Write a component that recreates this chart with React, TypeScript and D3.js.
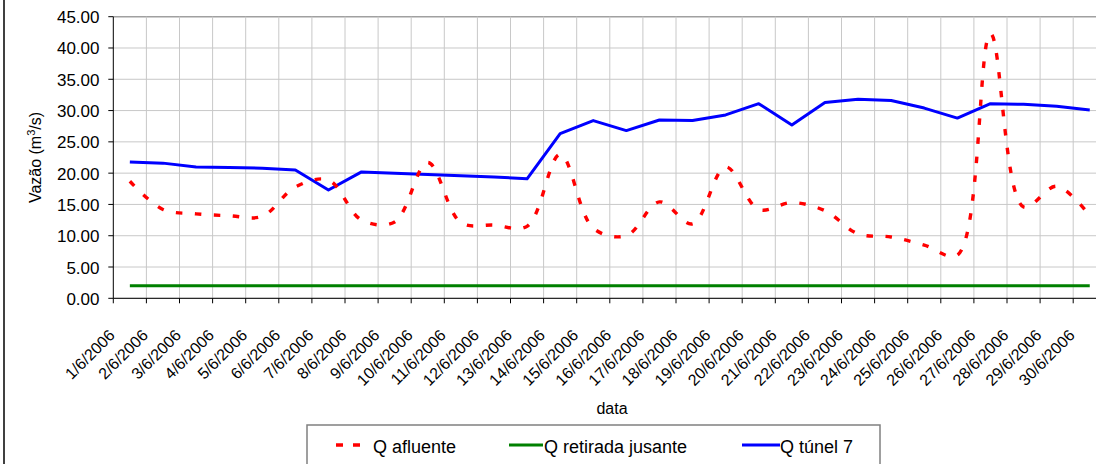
import React from "react";
import * as d3 from "d3";

const categories = [
  "1/6/2006", "2/6/2006", "3/6/2006", "4/6/2006", "5/6/2006", "6/6/2006",
  "7/6/2006", "8/6/2006", "9/6/2006", "10/6/2006", "11/6/2006", "12/6/2006",
  "13/6/2006", "14/6/2006", "15/6/2006", "16/6/2006", "17/6/2006", "18/6/2006",
  "19/6/2006", "20/6/2006", "21/6/2006", "22/6/2006", "23/6/2006", "24/6/2006",
  "25/6/2006", "26/6/2006", "27/6/2006", "28/6/2006", "29/6/2006", "30/6/2006",
];

const qAfluente = [
  18.7, 14.2, 13.5, 13.2, 13.1, 17.8, 18.9, 12.5, 12.2, 21.7,
  12.1, 11.7, 11.5, 23.0, 11.2, 10.0, 15.4, 11.9, 21.0, 14.2,
  15.3, 14.0, 10.3, 9.8, 8.5, 6.9, 42.3, 14.6, 17.9, 13.2,
];

const qRetirada = [
  2.0, 2.0, 2.0, 2.0, 2.0, 2.0, 2.0, 2.0, 2.0, 2.0,
  2.0, 2.0, 2.0, 2.0, 2.0, 2.0, 2.0, 2.0, 2.0, 2.0,
  2.0, 2.0, 2.0, 2.0, 2.0, 2.0, 2.0, 2.0, 2.0, 2.0,
];

const qTunel = [
  21.8, 21.6, 21.0, 20.9, 20.8, 20.5, 17.3, 20.2, 20.0, 19.8,
  19.6, 19.4, 19.1, 26.3, 28.4, 26.8, 28.5, 28.4, 29.3, 31.1,
  27.7, 31.3, 31.8, 31.6, 30.4, 28.8, 31.1, 31.0, 30.7, 30.1,
];

const yTicks = [0, 5, 10, 15, 20, 25, 30, 35, 40, 45];

const seriesNames = ["Q afluente", "Q retirada jusante", "Q túnel 7"];

const W = 1096;
const H = 464;
const FONT = "'Liberation Sans', Arial, sans-serif";

export default function App() {
  const left = 113.3;
  const right = 1106.3;
  const top = 16.7;
  const bottom = 298.3;

  const x = d3.scaleBand<string>().domain(categories).range([left, right]).padding(0);
  const y = d3.scaleLinear().domain([0, 45]).range([bottom, top]);
  const cx = (c: string) => (x(c) as number) + x.bandwidth() / 2;

  const straight = d3
    .line<number>()
    .x((_, i) => cx(categories[i]))
    .y((d) => y(d));
  const smooth = d3
    .line<number>()
    .x((_, i) => cx(categories[i]))
    .y((d) => y(d))
    .curve(d3.curveCatmullRom.alpha(0.5));

  const boundaries = categories.map((c) => x(c) as number).concat([right]);

  return (
    <svg
      width={W}
      height={H}
      style={{ position: "absolute", left: 0, top: 0, background: "#fff" }}
      fontFamily={FONT}
    >
      <rect x={0} y={0} width={W} height={H} fill="#fff" />
      {/* chart area left border */}
      <line x1={4} y1={0} x2={4} y2={H} stroke="#404040" strokeWidth={2} />

      {/* horizontal gridlines */}
      {yTicks.map((t) => (
        <line
          key={"hg" + t}
          x1={left}
          x2={right}
          y1={y(t)}
          y2={y(t)}
          stroke={t === 45 ? "#a0a0a0" : "#c8c8c8"}
          strokeWidth={t === 45 ? 1.5 : 1}
        />
      ))}
      {/* vertical gridlines */}
      {boundaries.slice(1).map((b, i) => (
        <line key={"vg" + i} x1={b} x2={b} y1={top} y2={bottom} stroke="#c8c8c8" strokeWidth={1} />
      ))}

      {/* axes */}
      <line x1={left} x2={left} y1={top} y2={bottom} stroke="#000" strokeWidth={1} />
      <line x1={left} x2={right} y1={bottom} y2={bottom} stroke="#000" strokeWidth={1} />
      {yTicks.map((t) => (
        <g key={"yt" + t}>
          <line x1={left - 5} x2={left} y1={y(t)} y2={y(t)} stroke="#000" strokeWidth={1} />
          <text x={99.5} y={y(t) + 6.5} textAnchor="end" fontSize={17} fill="#000">
            {t.toFixed(2)}
          </text>
        </g>
      ))}
      {boundaries.map((b, i) => (
        <line key={"xt" + i} x1={b} x2={b} y1={bottom} y2={bottom + 5} stroke="#000" strokeWidth={1} />
      ))}
      {categories.map((c) => (
        <text
          key={"xl" + c}
          transform={`translate(${cx(c) - 14},${bottom + 38}) rotate(-45)`}
          textAnchor="end"
          fontSize={16}
          fill="#000"
        >
          {c}
        </text>
      ))}

      {/* axis titles */}
      <text transform={`translate(41,${(top + bottom) / 2}) rotate(-90)`} textAnchor="middle" fontSize={16} fill="#000">
        Vazão (m<tspan dy={-6} fontSize={11}>3</tspan>
        <tspan dy={6}>/s)</tspan>
      </text>
      <text x={612} y={414} textAnchor="middle" fontSize={16} fill="#000">
        data
      </text>

      {/* series */}
      <path d={straight(qRetirada) || ""} fill="none" stroke="#008000" strokeWidth={3} />
      <path d={straight(qTunel) || ""} fill="none" stroke="#0000ff" strokeWidth={3} strokeLinejoin="round" />
      <path d={smooth(qAfluente) || ""} fill="none" stroke="#ff0000" strokeWidth={3.4} strokeDasharray="6.5 12.5" />

      {/* legend */}
      <rect x={307} y={425} width={573} height={60} fill="#fff" stroke="#808080" strokeWidth={1.5} />
      <line x1={336} x2={361} y1={445} y2={445} stroke="#ff0000" strokeWidth={3.4} strokeDasharray="7 10" />
      <text x={373} y={452.5} fontSize={18} fill="#000">{seriesNames[0]}</text>
      <line x1={509} x2={543} y1={445} y2={445} stroke="#008000" strokeWidth={3} />
      <text x={544} y={452.5} fontSize={18} fill="#000">{seriesNames[1]}</text>
      <line x1={742} x2={780} y1={445} y2={445} stroke="#0000ff" strokeWidth={3} />
      <text x={780} y={452.5} fontSize={18} fill="#000">{seriesNames[2]}</text>
    </svg>
  );
}
